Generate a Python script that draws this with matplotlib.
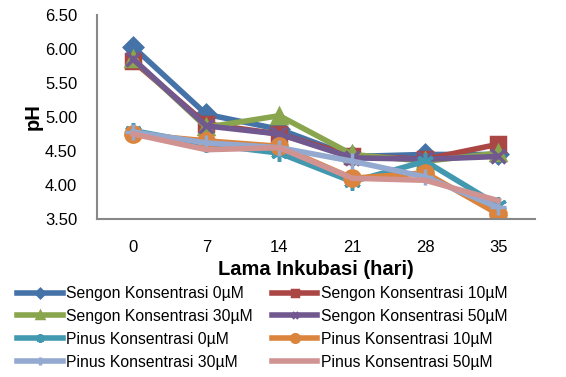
import matplotlib
matplotlib.use("Agg")
import matplotlib.pyplot as plt

plt.rcParams["font.family"] = ["Liberation Sans", "DejaVu Sans"]

days = [0, 7, 14, 21, 28, 35]
labels = [
    "Sengon Konsentrasi 0µM", "Sengon Konsentrasi 10µM",
    "Sengon Konsentrasi 30µM", "Sengon Konsentrasi 50µM",
    "Pinus Konsentrasi 0µM", "Pinus Konsentrasi 10µM",
    "Pinus Konsentrasi 30µM", "Pinus Konsentrasi 50µM",
]
sengon_0 = [6.03, 5.04, 4.82, 4.42, 4.45, 4.45]
sengon_10 = [5.82, 4.90, 4.75, 4.43, 4.38, 4.60]
sengon_30 = [5.85, 4.85, 5.02, 4.45, 4.35, 4.47]
sengon_50 = [5.85, 4.87, 4.75, 4.40, 4.38, 4.42]
pinus_0 = [4.80, 4.60, 4.47, 4.05, 4.35, 3.70]
pinus_10 = [4.75, 4.65, 4.57, 4.10, 4.18, 3.57]
pinus_30 = [4.78, 4.62, 4.55, 4.35, 4.12, 3.67]
pinus_50 = [4.75, 4.52, 4.55, 4.10, 4.07, 3.77]

series = [sengon_0, sengon_10, sengon_30, sengon_50,
          pinus_0, pinus_10, pinus_30, pinus_50]
colors = ["#4572A7", "#AA4643", "#89A54E", "#71588F",
          "#4198AF", "#DB843D", "#93A9CF", "#D19392"]
markers = ["D", "s", "^", "x", (6, 2, 0), "o", "+", None]
msizes = [9, 10, 10, 10, 12, 11, 12, 0]

fig = plt.figure(figsize=(5.66, 3.77), dpi=100)
ax = fig.add_axes([0.171, 0.419, 0.774, 0.541])

handles = []
for vals, lab, c, m, ms in zip(series, labels, colors, markers, msizes):
    h, = ax.plot(days, vals, color=c, lw=4, marker=m, markersize=ms,
                 markeredgecolor=c, markeredgewidth=2.5, label=lab)
    handles.append(h)

ax.set_xlim(-3.5, 38.5)
ax.set_ylim(3.5, 6.5)
ax.set_xticks(days)
ax.set_yticks([3.5, 4.0, 4.5, 5.0, 5.5, 6.0, 6.5])
ax.set_yticklabels([f"{v:.2f}" for v in ax.get_yticks()])
ax.tick_params(axis="y", labelsize=12, length=0, pad=14)
ax.tick_params(axis="x", labelsize=12, length=0, pad=15)
for s in ["top", "right"]:
    ax.spines[s].set_visible(False)
for s in ["left", "bottom"]:
    ax.spines[s].set_color("#888888")
    ax.spines[s].set_linewidth(1.5)

ax.set_ylabel("pH", fontsize=14.5, fontweight="bold", labelpad=2)
ax.set_xlabel("Lama Inkubasi (hari)", fontsize=14.5, fontweight="bold", labelpad=4)

# legend is filled row by row in the original
order = [0, 2, 4, 6, 1, 3, 5, 7]
fig.legend([handles[i] for i in order], [labels[i] for i in order],
           loc="upper left", bbox_to_anchor=(17 / 566, 1 - 286 / 377), ncol=2,
           frameon=False, fontsize=11.3, handlelength=2.9, handletextpad=0.25,
           columnspacing=1.2, labelspacing=0.5, markerscale=0.5,
           borderpad=0, borderaxespad=0)

fig.savefig("out.png", dpi=100)
